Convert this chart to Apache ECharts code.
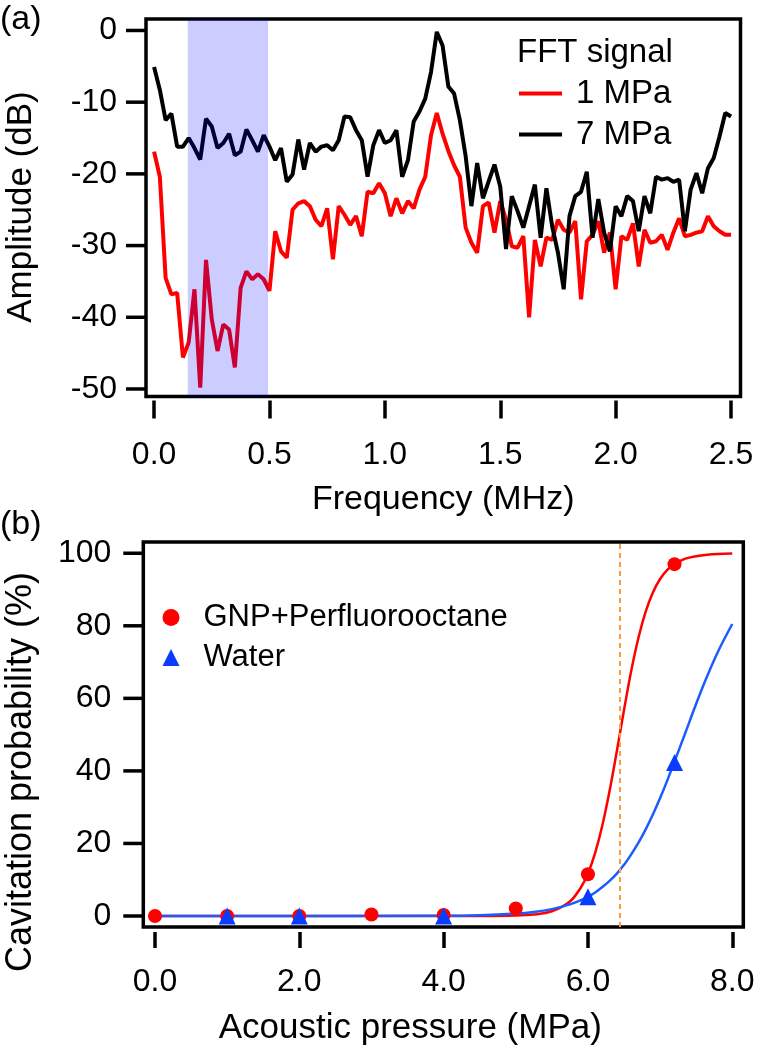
<!DOCTYPE html>
<html><head><meta charset="utf-8">
<script src="https://cdn.jsdelivr.net/npm/echarts@6/dist/echarts.min.js"></script>
<style>html,body{margin:0;padding:0;background:#fff}#c{width:758px;height:1050px}</style>
</head><body><div id="c"></div>
<script>
// ---------- panel (a): FFT spectra ----------
const freqMHz = [0,0.025,0.05,0.075,0.1,0.125,0.15,0.175,0.2,0.225,0.25,0.275,0.3,0.325,0.35,0.375,0.4,0.425,0.45,0.475,
0.5,0.525,0.55,0.575,0.6,0.625,0.65,0.675,0.7,0.725,0.75,0.775,0.8,0.825,0.85,0.875,0.9,0.925,0.95,0.975,
1.0,1.025,1.05,1.075,1.1,1.125,1.15,1.175,1.2,1.225,1.25,1.275,1.3,1.325,1.35,1.375,1.4,1.425,1.45,1.475,
1.5,1.525,1.55,1.575,1.6,1.625,1.65,1.675,1.7,1.725,1.75,1.775,1.8,1.825,1.85,1.875,1.9,1.925,1.95,1.975,
2.0,2.025,2.05,2.075,2.1,2.125,2.15,2.175,2.2,2.225,2.25,2.275,2.3,2.325,2.35,2.375,2.4,2.425,2.45,2.475,2.5];
const amp1MPa = [-16.9,-20.4,-34.5,-36.8,-36.6,-45.6,-43.5,-36.1,-49.8,-32.0,-40.3,-44.7,-41.0,-41.7,-47.0,-35.9,-33.6,-34.7,-34.0,-34.7,
-36.3,-28.0,-30.8,-31.7,-25.0,-24.1,-23.8,-24.5,-26.4,-27.3,-24.8,-31.9,-24.5,-25.7,-27.1,-25.9,-28.7,-22.5,-22.7,-21.3,
-22.7,-25.9,-23.4,-25.5,-23.8,-24.8,-22.2,-20.4,-14.6,-11.5,-14.4,-16.8,-18.8,-20.4,-27.5,-29.6,-31.0,-24.5,-24.0,-28.2,
-23.8,-26.4,-30.1,-30.3,-28.7,-40.0,-29.2,-32.9,-28.9,-29.2,-26.4,-27.8,-28.2,-26.6,-37.5,-29.4,-28.5,-26.6,-31.0,-28.2,
-36.1,-28.7,-29.2,-26.9,-32.9,-27.8,-29.6,-29.4,-28.5,-30.6,-28.2,-26.2,-28.7,-28.5,-28.2,-28.0,-25.9,-27.3,-28.0,-28.5,-28.5];
const amp7MPa = [-5.1,-8.3,-12.5,-11.6,-16.2,-16.2,-15.0,-16.4,-18.0,-12.3,-13.4,-16.4,-15.7,-14.4,-17.4,-16.9,-13.8,-15.3,-16.9,-14.6,
-16.2,-18.1,-16.4,-21.1,-20.1,-15.2,-19.4,-15.7,-16.9,-16.2,-16.0,-16.7,-15.3,-12.0,-12.1,-13.9,-15.3,-20.4,-16.0,-13.9,
-15.7,-15.3,-13.9,-20.4,-18.1,-12.7,-11.3,-9.5,-5.8,-0.2,-2.1,-7.8,-8.8,-12.5,-17.5,-24.5,-18.5,-23.4,-21.0,-18.7,
-21.8,-30.5,-23.1,-25.2,-27.5,-24.5,-21.5,-28.9,-22.0,-27.3,-31.0,-36.1,-25.9,-23.1,-22.5,-19.7,-28.9,-23.5,-28.2,-30.8,
-24.5,-25.9,-23.1,-23.8,-28.0,-23.1,-25.5,-20.4,-20.8,-20.6,-21.1,-20.8,-28.0,-22.2,-19.9,-22.7,-19.2,-17.8,-14.8,-11.5,-12.0];
const freqTicks = [0, 0.5, 1.0, 1.5, 2.0, 2.5];
const ampTicks = [-50, -40, -30, -20, -10, 0];
const bandMHz = [0.146, 0.494];

// ---------- panel (b): cavitation probability ----------
const pressureGNP = [0, 1, 2, 3, 4, 5, 6, 7.2];
const probGNP = [0, 0, 0, 0.4, 0.3, 2.1, 11.5, 97];
const pressureWater = [1, 2, 4, 6, 7.2];
const probWater = [0, 0, 0, 5.3, 42.3];
const fitPressure = [0, 4, 4.5, 5, 5.25, 5.5, 5.75, 5.9, 6.0, 6.1, 6.2, 6.3, 6.4, 6.5, 6.6, 6.7, 6.8, 6.9, 7.0, 7.1, 7.2, 7.35, 7.5, 7.65, 7.8, 8.0];
const fitGNP =      [0, 0, 0.01, 0.14, 0.42, 1.3, 4.0, 7.8, 11.7, 17.4, 25.0, 34.5, 45.4, 56.8, 67.6, 76.7, 83.9, 89.2, 92.9, 95.4, 97.0, 98.5, 99.2, 99.6, 99.8, 99.9];
const fitWater =    [0, 0.08, 0.23, 0.66, 1.1, 1.9, 3.2, 4.35, 5.3, 6.5, 8.0, 9.7, 11.7, 14.1, 17.0, 20.2, 23.9, 28.0, 32.5, 37.4, 42.6, 50.5, 58.5, 66.0, 72.8, 80.5];
const thresholdMPa = 6.44;
const pressureTicks = [0, 2, 4, 6, 8];
const probTicks = [0, 20, 40, 60, 80, 100];

const zip = (xs, ys) => xs.map((x, i) => [x, ys[i]]);
const FONT = 'Liberation Sans, Arial, sans-serif';
const tickStyle = () => ({color: '#000', width: 3.5});
const hiddenLine = () => ({show: false, onZero: false});

// plot frames (data ranges slightly wider than tick ranges)
const A = {left: 146, top: 19, width: 594.5, height: 377.5, xMin: -0.035, xMax: 2.541, yMin: -51.05, yMax: 1.6};
const B = {left: 143.3, top: 542, width: 600, height: 385, xMin: -0.162, xMax: 8.153, yMin: -3.03, yMax: 103.1};
const TICK_LEN = 20;
const frameGrid = (P) => ({left: P.left, top: P.top, width: P.width, height: P.height, show: true, borderColor: '#000', borderWidth: 3.5,
  backgroundColor: 'transparent', outerBoundsMode: 'none', containLabel: false});

// y tick marks drawn through the axes' own scales (custom series, on its own layer)
const yTickSeries = (idx, P, ticks) => ({
  type: 'custom', name: 'yticks' + idx, xAxisIndex: idx, yAxisIndex: idx, zlevel: 1, z: 50, silent: true, clip: false,
  data: ticks.map(v => [P.xMin, v]), encode: {x: 0, y: 1},
  renderItem: (params, api) => {
    const p = api.coord([api.value(0), api.value(1)]);
    return {type: 'line', shape: {x1: p[0] - TICK_LEN, y1: p[1], x2: p[0], y2: p[1]},
            style: {stroke: '#000', lineWidth: 3.5, fill: null}};
  }
});

const chart = echarts.init(document.getElementById('c'), null, {renderer: 'canvas'});
chart.setOption({
  animation: false,
  backgroundColor: '#fff',
  textStyle: {fontFamily: FONT, color: '#000'},
  grid: [frameGrid(A), frameGrid(B)],
  xAxis: [
    {type: 'value', gridIndex: 0, min: A.xMin, max: A.xMax, offset: 4, position: 'bottom',
     axisLine: hiddenLine(), splitLine: {show: false},
     axisTick: {show: true, customValues: freqTicks, length: 18, lineStyle: tickStyle()},
     axisLabel: {customValues: freqTicks, formatter: v => v.toFixed(1), fontSize: 32, margin: 39, color: '#000', fontFamily: FONT},
     name: 'Frequency (MHz)', nameLocation: 'middle', nameGap: 82,
     nameTextStyle: {fontSize: 34, color: '#000', fontFamily: FONT}},
    {type: 'value', gridIndex: 1, min: B.xMin, max: B.xMax, offset: 5, position: 'bottom',
     axisLine: hiddenLine(), splitLine: {show: false},
     axisTick: {show: true, customValues: pressureTicks, length: 16, lineStyle: tickStyle()},
     axisLabel: {customValues: pressureTicks, formatter: v => v.toFixed(1), fontSize: 32, margin: 34, color: '#000', fontFamily: FONT},
     name: 'Acoustic pressure (MPa)', nameLocation: 'middle', nameGap: 79,
     nameTextStyle: {fontSize: 35, color: '#000', fontFamily: FONT, padding: [0, 66, 0, 0]}}
  ],
  yAxis: [
    {type: 'value', gridIndex: 0, min: A.yMin, max: A.yMax, position: 'left',
     axisLine: hiddenLine(), axisTick: {show: false}, splitLine: {show: false},
     axisLabel: {customValues: ampTicks, fontSize: 32, margin: 29, color: '#000', fontFamily: FONT}},
    {type: 'value', gridIndex: 1, min: B.yMin, max: B.yMax, position: 'left',
     axisLine: hiddenLine(), axisTick: {show: false}, splitLine: {show: false},
     axisLabel: {customValues: probTicks, fontSize: 32, margin: 32, color: '#000', fontFamily: FONT}}
  ],
  legend: [
    {data: ['1 MPa', '7 MPa'], orient: 'vertical', left: 519, top: 77, padding: 0,
     icon: 'rect', itemWidth: 43, itemHeight: 4, itemGap: 8,
     textStyle: {fontSize: 33, color: '#000', fontFamily: FONT, padding: [0, 0, 0, 9]}},
    {data: ['GNP+Perfluorooctane', 'Water'], orient: 'vertical', left: 162.5, top: 602, padding: 0,
     itemWidth: 17, itemHeight: 17, itemGap: 9,
     textStyle: {fontSize: 31, color: '#000', fontFamily: FONT, padding: [0, 0, 0, 19]}}
  ],
  graphic: [
    {type: 'text', left: 517, top: 36, style: {text: 'FFT signal', font: '33px ' + FONT, fill: '#000'}},
    {type: 'text', left: 0, top: 3, style: {text: '(a)', font: '34px ' + FONT, fill: '#000'}},
    {type: 'text', left: 0, top: 508, style: {text: '(b)', font: '34px ' + FONT, fill: '#000'}},
    {type: 'text', x: 21.5, y: 207, rotation: Math.PI / 2, z: 20,
     style: {text: 'Amplitude (dB)', font: '35px ' + FONT, fill: '#000', align: 'center', verticalAlign: 'middle', textAlign: 'center', textVerticalAlign: 'middle'}},
    {type: 'text', x: 21.5, y: 772, rotation: Math.PI / 2, z: 20,
     style: {text: 'Cavitation probability (%)', font: '36px ' + FONT, fill: '#000', align: 'center', verticalAlign: 'middle', textAlign: 'center', textVerticalAlign: 'middle'}}
  ],
  series: [
    {name: '1 MPa', type: 'line', xAxisIndex: 0, yAxisIndex: 0, data: zip(freqMHz, amp1MPa),
     symbol: 'none', color: '#ff0000', lineStyle: {width: 4, color: '#ff0000'}, z: 2},
    {name: '7 MPa', type: 'line', xAxisIndex: 0, yAxisIndex: 0, data: zip(freqMHz, amp7MPa),
     symbol: 'none', color: '#000000', lineStyle: {width: 4, color: '#000000'}, z: 3},
    {name: 'band', type: 'line', xAxisIndex: 0, yAxisIndex: 0, data: [], z: 10,
     markArea: {silent: true, z: 10, itemStyle: {color: 'rgba(0,0,255,0.2)'},
       data: [[{xAxis: bandMHz[0]}, {xAxis: bandMHz[1]}]]}},
    {name: 'GNP fit', type: 'line', xAxisIndex: 1, yAxisIndex: 1, data: zip(fitPressure, fitGNP),
     symbol: 'none', smooth: 0.35, color: '#ff0000', lineStyle: {width: 2.5, color: '#ff0000'}, z: 2,
     markLine: {silent: true, symbol: ['none', 'none'], label: {show: false},
       lineStyle: {color: '#ff9a40', width: 2, type: [5, 4]}, data: [{xAxis: thresholdMPa}]}},
    {name: 'Water fit', type: 'line', xAxisIndex: 1, yAxisIndex: 1, data: zip(fitPressure, fitWater),
     symbol: 'none', smooth: 0.35, color: '#1a5cff', lineStyle: {width: 2.5, color: '#1a5cff'}, z: 3},
    {name: 'GNP+Perfluorooctane', type: 'scatter', xAxisIndex: 1, yAxisIndex: 1, data: zip(pressureGNP, probGNP),
     symbol: 'circle', symbolSize: 14, itemStyle: {color: '#ff0000', opacity: 1}, z: 4},
    {name: 'Water', type: 'scatter', xAxisIndex: 1, yAxisIndex: 1, data: zip(pressureWater, probWater),
     symbol: 'triangle', symbolSize: 17, itemStyle: {color: '#0a3cff', opacity: 1}, z: 5},
    yTickSeries(0, A, ampTicks),
    yTickSeries(1, B, probTicks)
  ]
});
</script>
</body></html>
